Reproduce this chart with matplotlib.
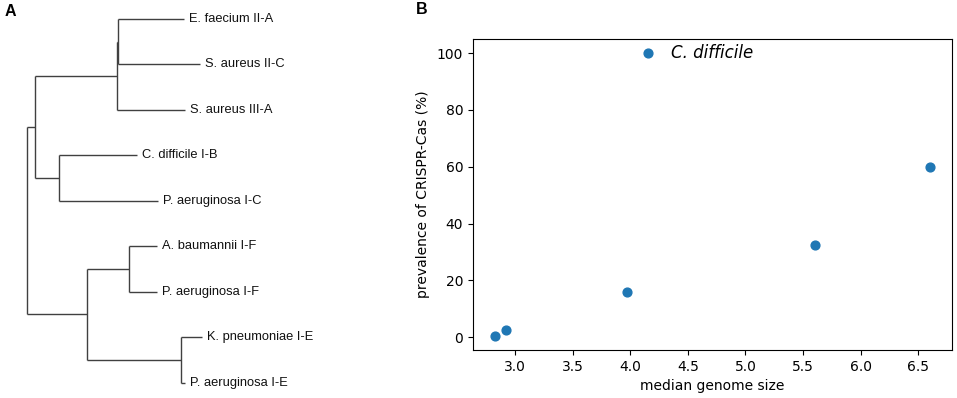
import matplotlib
matplotlib.use("Agg")
import matplotlib.pyplot as plt

# ---- Data ----
# Tree: leaf = (name, branch_length); internal = (branch_length, [children])
tree = (0.0, [
    (0.08, [
        (0.82, [
            (0.01, [("E. faecium II-A", 0.66), ("S. aureus II-C", 0.82)]),
            ("S. aureus III-A", 0.68),
        ]),
        (0.237, [("C. difficile I-B", 0.78), ("P. aeruginosa I-C", 0.993)]),
    ]),
    (0.603, [
        (0.42, [("A. baumannii I-F", 0.274), ("P. aeruginosa I-F", 0.274)]),
        (0.937, [("K. pneumoniae I-E", 0.207), ("P. aeruginosa I-E", 0.04)]),
    ]),
])

genome_size = [2.825, 2.919, 3.971, 5.602, 6.603, 4.158]
prevalence = [0.5, 2.6, 15.8, 32.4, 60.1, 100.0]
highlight_label = "C. difficile"
highlight_index = 5
x_ticks = [3.0, 3.5, 4.0, 4.5, 5.0, 5.5, 6.0, 6.5]
y_ticks = [0, 20, 40, 60, 80, 100]

W, H, DPI = 957, 398, 100
fig = plt.figure(figsize=(W / DPI, H / DPI), dpi=DPI)

# ---- Panel A: dendrogram ----
axA = fig.add_axes([0, 0, 430 / W, 1])
axA.set_xlim(-0.27, 4.03)
axA.set_ylim(8.337, -0.418)
axA.axis("off")

line_kw = dict(color="#404040", lw=1.0, solid_capstyle="butt")
counter = [0]


def draw(node, x0):
    if isinstance(node[0], str):
        name, bl = node
        x = x0 + bl
        y = counter[0]
        counter[0] += 1
        axA.plot([x0, x], [y, y], **line_kw)
        axA.annotate(name, xy=(x, y), xytext=(3.5, 0), textcoords="offset points",
                     va="center", ha="left", fontsize=9.3,
                     family=["Liberation Sans", "DejaVu Sans"], color="#111111")
        return y
    bl, children = node
    x = x0 + bl
    ys = [draw(c, x) for c in children]
    y = (ys[0] + ys[-1]) / 2
    axA.plot([x, x], [ys[0], ys[-1]], **line_kw)
    if bl > 0:
        axA.plot([x0, x], [y, y], **line_kw)
    return y


draw(tree, 0.0)

# ---- Panel B: scatter ----
axB = fig.add_axes([473 / W, 1 - 350 / H, 479 / W, 311 / H])
axB.scatter(genome_size, prevalence, s=40, color="#1f77b4", zorder=3)
axB.annotate(highlight_label, xy=(genome_size[highlight_index], prevalence[highlight_index]),
             xytext=(16, 0), textcoords="offset points", va="center", ha="left",
             fontsize=12, style="italic")
axB.set_xticks(x_ticks)
axB.set_yticks(y_ticks)
axB.tick_params(labelsize=10)
axB.set_xlabel("median genome size", fontsize=10)
axB.set_ylabel("prevalence of CRISPR-Cas (%)", fontsize=10, labelpad=5)

# Panel labels
fig.text(5 / W, 1 - 11 / H, "A", fontsize=11.5, fontweight="bold", va="center", ha="left",
         family=["Liberation Sans", "DejaVu Sans"])
fig.text(416 / W, 1 - 10 / H, "B", fontsize=11.5, fontweight="bold", va="center", ha="left",
         family=["Liberation Sans", "DejaVu Sans"])

fig.savefig("out.png", dpi=DPI)
